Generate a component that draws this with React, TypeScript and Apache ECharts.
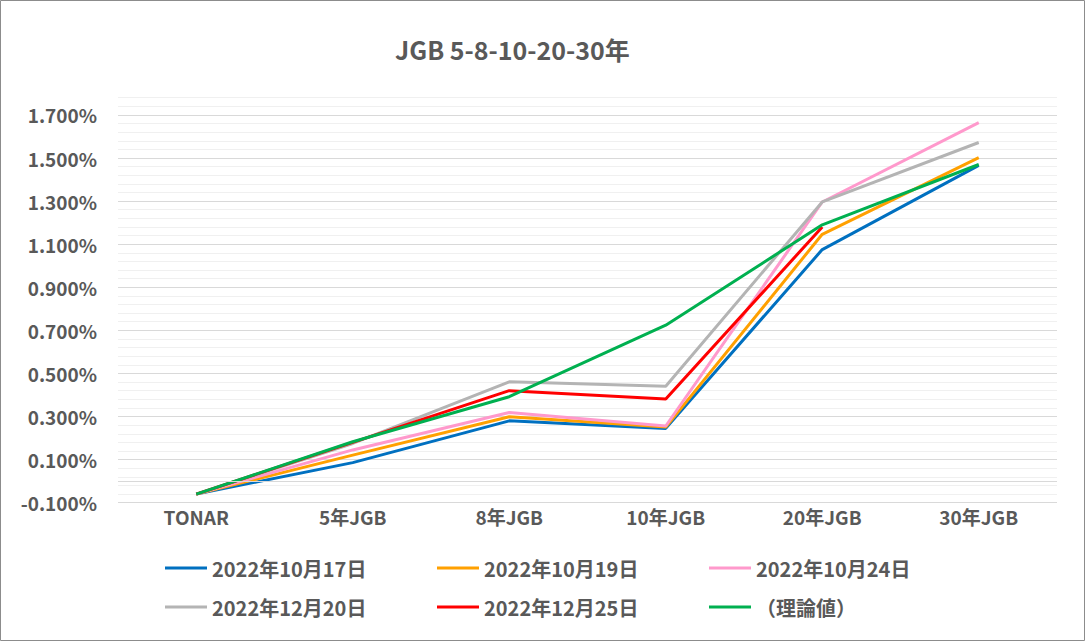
import React, { useEffect, useRef } from "react";
import * as echarts from "echarts";

const categories = ["TONAR", "5年JGB", "8年JGB", "10年JGB", "20年JGB", "30年JGB"];
const seriesNames = [
  "2022年10月17日",
  "2022年10月19日",
  "2022年10月24日",
  "2022年12月20日",
  "2022年12月25日",
  "（理論値）",
];
const s1017 = [-0.06, 0.086, 0.28, 0.245, 1.075, 1.466];
const s1019 = [-0.06, 0.121, 0.299, 0.251, 1.146, 1.502];
const s1024 = [-0.06, 0.145, 0.319, 0.256, 1.296, 1.664];
const s1220 = [-0.06, 0.175, 0.461, 0.441, 1.296, 1.572];
const s1225 = [-0.06, 0.18, 0.42, 0.381, 1.18, null];
const theory = [-0.06, 0.183, 0.392, 0.724, 1.19, 1.47];
const colors = ["#0070C0", "#FFA000", "#FF99CC", "#B4B4B4", "#FF0000", "#00B050"];

const FONT = "'Noto Sans CJK JP', 'Noto Sans', sans-serif";
const TXT = "#595959";

export default function App() {
  const ref = useRef<HTMLDivElement>(null);
  useEffect(() => {
    if (!ref.current) return;
    const chart = echarts.init(ref.current, undefined, { renderer: "svg" });
    const data = [s1017, s1019, s1024, s1220, s1225, theory];
    const series: any[] = data.map((d, i) => ({
      name: seriesNames[i],
      type: "line",
      data: d,
      yAxisIndex: 0,
      symbol: "none",
      showSymbol: false,
      connectNulls: false,
      lineStyle: { color: colors[i], width: 3 },
      itemStyle: { color: colors[i] },
      ...(i === 0
        ? {
            markLine: {
              silent: true,
              symbol: "none",
              label: { show: false },
              lineStyle: { color: "#d9d9d9", width: 1, type: "solid" },
              data: [{ yAxis: 0 }],
            },
          }
        : {}),
    }));
    const legendText = {
      color: TXT,
      fontSize: 20,
      fontWeight: "bold",
      fontFamily: FONT,
      lineHeight: 20,
    };
    const legendCols = [
      [seriesNames[0], seriesNames[3]],
      [seriesNames[1], seriesNames[4]],
      [seriesNames[2], seriesNames[5]],
    ];
    const legendLefts = [165, 437, 709];
    chart.setOption({
      animation: false,
      backgroundColor: "#ffffff",
      title: {
        text: "JGB 5-8-10-20-30年",
        left: 395,
        top: 36,
        padding: 0,
        textStyle: { color: TXT, fontSize: 25, fontWeight: "bold", fontFamily: FONT },
      },
      legend: legendCols.map((col, i) => ({
        data: col,
        orient: "vertical",
        left: legendLefts[i],
        top: 558,
        padding: 0,
        itemGap: 19,
        itemWidth: 42,
        itemHeight: 20,
        icon: "path://M0,0H42V3H0Z",
        symbolKeepAspect: true,
        selectedMode: false,
        textStyle: legendText,
      })),
      grid: { left: 118, right: 29, top: 97.7, bottom: 139.3, containLabel: false },
      xAxis: {
        type: "category",
        data: categories,
        boundaryGap: true,
        axisLine: { show: false, onZero: false },
        axisTick: { show: false },
        axisLabel: {
          color: TXT,
          fontSize: 19,
          fontWeight: "bold",
          fontFamily: FONT,
          margin: 4,
          interval: 0,
        },
      },
      yAxis: [
        {
          type: "value",
          min: -0.1,
          max: 1.78,
          interval: 0.2,
          z: 2,
          axisLine: { show: false },
          axisTick: { show: false },
          axisLabel: {
            color: TXT,
            fontSize: 19,
            fontWeight: "bold",
            fontFamily: FONT,
            margin: 21,
            showMaxLabel: false,
            formatter: (v: number) => (v > 1.75 ? "" : v.toFixed(3) + "%"),
          },
          splitLine: {
            show: true,
            showMaxLine: false,
            lineStyle: { color: "#d9d9d9", width: 1 },
          },
        },
        {
          type: "value",
          min: -0.1,
          max: 1.78,
          interval: 0.04,
          z: 0,
          position: "left",
          axisLine: { show: false },
          axisTick: { show: false },
          axisLabel: { show: false },
          splitLine: { show: true, lineStyle: { color: "#f0f0f0", width: 1 } },
        },
      ],
      graphic: [
        {
          type: "rect",
          shape: { x: 0.5, y: 0.5, width: 1084, height: 640 },
          style: { fill: "none", stroke: "#8c8c8c", lineWidth: 1 },
          silent: true,
          z: 100,
        },
      ],
      series,
    });
    return () => chart.dispose();
  }, []);
  return (
    <div
      ref={ref}
      style={{ position: "fixed", left: 0, top: 0, width: 1086, height: 642 }}
    />
  );
}
